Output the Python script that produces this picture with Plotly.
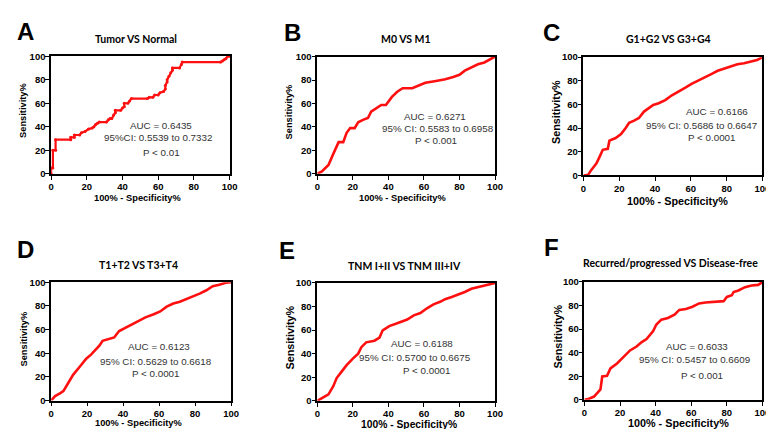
import plotly.graph_objects as go

# ---------------- data ----------------
panel_letters = ["A", "B", "C", "D", "E", "F"]
panel_titles = ["Tumor VS Normal", "M0 VS M1", "G1+G2 VS G3+G4",
                "T1+T2 VS T3+T4", "TNM I+II VS TNM III+IV",
                "Recurred/progressed VS Disease-free"]
auc_texts = ["AUC = 0.6435", "AUC = 0.6271", "AUC = 0.6166",
             "AUC = 0.6123", "AUC = 0.6188", "AUC = 0.6033"]
ci_texts = ["95%CI: 0.5539 to 0.7332", "95% CI: 0.5583 to 0.6958",
            "95% CI: 0.5686 to 0.6647", "95% CI: 0.5629 to 0.6618",
            "95% CI: 0.5700 to 0.6675", "95% CI: 0.5457 to 0.6609"]
p_texts = ["P < 0.01", "P < 0.001", "P < 0.0001",
           "P < 0.0001", "P < 0.0001", "P < 0.001"]
x_tick_vals = [0, 20, 40, 60, 80, 100]
y_tick_vals = [0, 20, 40, 60, 80, 100]
x_title = "100% - Specificity%"
y_title = "Sensitivity%"

A_fpr = [0, 0, 1, 1, 2.5, 2.5, 11, 11, 13, 13, 16, 17, 19, 21, 23, 24, 25, 26, 27, 31, 32, 33,
         34, 35, 36, 36, 39, 40, 41, 41, 43, 44, 45, 54, 55, 57, 58, 60, 61, 63, 64, 64, 65,
         65, 66, 67, 68, 68, 72, 73, 73.5, 95, 96, 97, 98, 99, 100]
A_tpr = [0, 5, 5, 20, 20, 29, 29, 31, 31, 33, 33, 35, 36, 38, 39, 40, 42, 43, 44, 44, 46, 47,
         47, 50, 52, 54, 54, 56, 57, 60, 60, 62, 64, 64, 65, 65, 67, 67, 69, 70, 72, 75, 78,
         80, 83, 86, 88, 90, 90, 93, 95, 95, 96, 97, 98, 100, 100]

B_fpr = [0, 2.6, 6.3, 8, 9, 12, 14.6, 16.5, 18.5, 21, 23, 25.7, 28.5, 30.3, 33, 36, 38.6,
         40.5, 42, 45, 48, 53.4, 57, 60.8, 66, 72, 76.5, 80, 83, 86.7, 90.4, 94, 97.6, 100]
B_tpr = [0, 2, 7.5, 14, 17, 27, 27, 35, 39, 39, 44, 46, 47.6, 53, 56, 58.7, 58.7,
         63, 65.6, 70, 73, 73, 75, 77.6, 79, 80.6, 82.5, 84.5, 88, 90.6, 93.4, 95, 98, 100]

C_fpr = [0, 2.6, 4.4, 7.2, 9, 10.8, 13.6, 14.5, 18, 21, 23.7, 25.5, 28.3, 31, 33.8, 36.5, 39,
         42, 45.7, 49.4, 53, 56.7, 60.4, 64, 67.7, 71.4, 75, 78.7, 82.4, 86, 89.7, 93.4, 97, 100]
C_tpr = [0, 0.5, 4.7, 10, 15.7, 21.7, 22.5, 29.4, 31.6, 35, 40.4, 44.5, 46.4, 48.6, 54, 57,
         59.6, 61, 63.7, 67.8, 70.6, 74, 77.5, 80, 83, 85.7, 88.5, 90.4, 92.6, 94, 94.8, 96,
         97.5, 100]

D_fpr = [0, 2.2, 4.9, 6.8, 9.5, 12.2, 15.9, 19.5, 22.3, 25, 26.8, 28.6, 32.3, 35, 37.8, 41.4,
         45, 48.7, 52.4, 57, 60.6, 64.2, 67.9, 71.5, 75.2, 78.8, 82.5, 86, 89.8, 93.4, 97, 100]
D_tpr = [0, 3.8, 6, 8, 14.8, 21.7, 28.6, 35.4, 39, 43.7, 46.4, 50.5, 52, 53.3, 58.8, 61.5,
         64.8, 67, 70.3, 73, 75.3, 79.4, 82, 83.5, 85.7, 87.6, 90.4, 93, 96.7, 97.8, 99.5, 100]

E_fpr = [0, 2.6, 6.3, 9, 10.9, 13.7, 16.5, 20, 23, 24.8, 27.5, 32.2, 35, 36.8, 40.5, 44.2,
         47.9, 50.6, 54.3, 58, 61.7, 65.4, 69.1, 71.9, 75.6, 79.3, 83, 86.7, 90.4, 94, 97.8, 100]
E_tpr = [0, 2, 5.5, 12.4, 19.3, 24.8, 30.3, 35.8, 40, 45.5, 49.6, 51, 53.7, 59.8, 63.4, 65.3,
         67, 68.9, 72.5, 74.4, 78.5, 81.8, 84, 86.2, 88, 90, 92.3, 95, 96.4, 97.8, 99, 100]

F_fpr = [0, 2.6, 5.4, 7.2, 9, 10, 12.7, 14.6, 18.3, 22, 25.6, 29.3, 32, 34.9, 36.7, 38.6,
         40.4, 43.2, 46.9, 50.6, 53.3, 57, 60.7, 64.4, 68, 78.2, 80, 82.8, 83.8, 86.5, 90.2,
         93.9, 97.6, 100]
F_tpr = [0, 1, 2.8, 6, 8.8, 19.8, 20.4, 26.7, 30.9, 36.4, 41.9, 45.2, 48.8, 51.5, 55, 58.4,
         63.9, 68, 69.4, 72.2, 76.3, 77, 79, 81.8, 82.6, 83.7, 87.3, 88.7, 91.5, 92.8, 95.6,
         97, 97.5, 100]

fprs = [A_fpr, B_fpr, C_fpr, D_fpr, E_fpr, F_fpr]
tprs = [A_tpr, B_tpr, C_tpr, D_tpr, E_tpr, F_tpr]

# ---------------- layout geometry (pixels) ----------------
W, H = 774, 429
plot_px = [  # x0, x1, ytop, ybottom
    (40.7, 221.7, 43.3, 164.0),
    (310.7, 491.0, 43.7, 164.0),
    (580.7, 762.3, 44.3, 165.7),
    (40.7, 223.3, 275.3, 396.7),
    (310.7, 491.0, 276.0, 397.0),
    (581.7, 762.3, 275.0, 396.0),
]
letter_px = [(15, 18), (286, 19), (548, 19), (15, 242), (280, 243), (548, 240)]
title_px = [(127, 26), (401, 26), (667, 26), (129, 257.5), (399, 259), (669, 256)]
xtitle_px = [(129, 188.5), (398, 188.5), (676, 191.5), (130, 419.5), (404, 421), (677, 420)]
xtitle_size = [9.3, 9.3, 10.8, 9.3, 10.3, 10.8]
ytitle_px = [(12.7, 99), (282, 100), (552.7, 100.8), (13.3, 333), (283.3, 331.7), (555, 330.8)]
ytitle_size = [9.3, 9.3, 10.8, 9.3, 10.8, 10.8]
# annotation positions in data units (x%, y%) for AUC / CI / P lines
stat_pos = [
    [(61.5, 41.4), (59.8, 30.9), (61.8, 18.0)],
    [(66.2, 49.0), (67.7, 38.8), (66.9, 28.3)],
    [(74.6, 54.1), (65.7, 42.3), (71.7, 31.9)],
    [(59.8, 45.3), (58.0, 32.9), (58.4, 22.6)],
    [(59.1, 48.5), (54.9, 36.9), (61.7, 25.9)],
    [(63.4, 44.9), (62.0, 33.9), (65.9, 20.9)],
]

RED = "#ff1010"
fig = go.Figure()
annotations = []
layout_axes = {}

for i in range(6):
    n = "" if i == 0 else str(i + 1)
    x0, x1, yt, yb = plot_px[i]
    layout_axes["xaxis" + n] = dict(
        domain=[x0 / W, x1 / W], range=[0, 100], anchor="y" + n,
        tickvals=x_tick_vals, ticks="outside", ticklen=4, tickwidth=1.3,
        tickcolor="black", showline=True, linecolor="black", linewidth=1.5,
        mirror=True, showgrid=False, zeroline=False, fixedrange=True,
        ticklabelstandoff=-1,
        tickfont=dict(family="Liberation Sans, Arial", size=9.5, color="black", weight="bold"),
    )
    layout_axes["yaxis" + n] = dict(
        domain=[1 - yb / H, 1 - yt / H], range=[0, 100], anchor="x" + n,
        tickvals=y_tick_vals, ticks="outside", ticklen=4, tickwidth=1.3,
        tickcolor="black", showline=True, linecolor="black", linewidth=1.5,
        mirror=True, showgrid=False, zeroline=False, fixedrange=True,
        ticklabelstandoff=-2,
        tickfont=dict(family="Liberation Sans, Arial", size=9.5, color="black", weight="bold"),
    )
    fig.add_trace(go.Scatter(
        x=fprs[i], y=tprs[i], xaxis="x" + n, yaxis="y" + n,
        mode="lines+markers" if i == 0 else "lines",
        line=dict(color=RED, width=2.2 if i == 0 else 2.6),
        marker=dict(size=3, color=RED),
        cliponaxis=False, showlegend=False, hoverinfo="skip",
    ))
    # panel letter
    lx, ly = letter_px[i]
    annotations.append(dict(x=lx / W, y=1 - ly / H, xref="paper", yref="paper",
                            text="<b>" + panel_letters[i] + "</b>", showarrow=False,
                            xanchor="center", yanchor="middle",
                            font=dict(family="Liberation Sans, Arial", size=24, color="black")))
    # panel title
    tx, ty = title_px[i]
    annotations.append(dict(x=tx / W, y=1 - ty / H, xref="paper", yref="paper",
                            text="<b>" + panel_titles[i] + "</b>", showarrow=False,
                            xanchor="center", yanchor="middle",
                            font=dict(family="Lato, Open Sans", size=10.5, color="black")))
    # axis titles
    ax, ay = xtitle_px[i]
    annotations.append(dict(x=ax / W, y=1 - ay / H, xref="paper", yref="paper",
                            text="<b>" + x_title + "</b>", showarrow=False,
                            xanchor="center", yanchor="middle",
                            font=dict(family="Liberation Sans, Arial", size=xtitle_size[i],
                                      color="black")))
    vx, vy = ytitle_px[i]
    annotations.append(dict(x=vx / W, y=1 - vy / H, xref="paper", yref="paper",
                            text="<b>" + y_title + "</b>", showarrow=False, textangle=-90,
                            xanchor="center", yanchor="middle",
                            font=dict(family="Liberation Sans, Arial", size=ytitle_size[i],
                                      color="black")))
    # statistics text
    for txt, (sx, sy) in zip([auc_texts[i], ci_texts[i], p_texts[i]], stat_pos[i]):
        annotations.append(dict(x=sx, y=sy, xref="x" + n, yref="y" + n, text=txt,
                                showarrow=False, xanchor="center", yanchor="middle",
                                font=dict(family="Liberation Sans, Arial", size=9.8,
                                          color="#333333")))

fig.update_layout(
    width=W, height=H, margin=dict(l=0, r=0, t=0, b=0),
    paper_bgcolor="white", plot_bgcolor="white",
    annotations=annotations, showlegend=False, **layout_axes,
)

fig.write_html("out.html")
